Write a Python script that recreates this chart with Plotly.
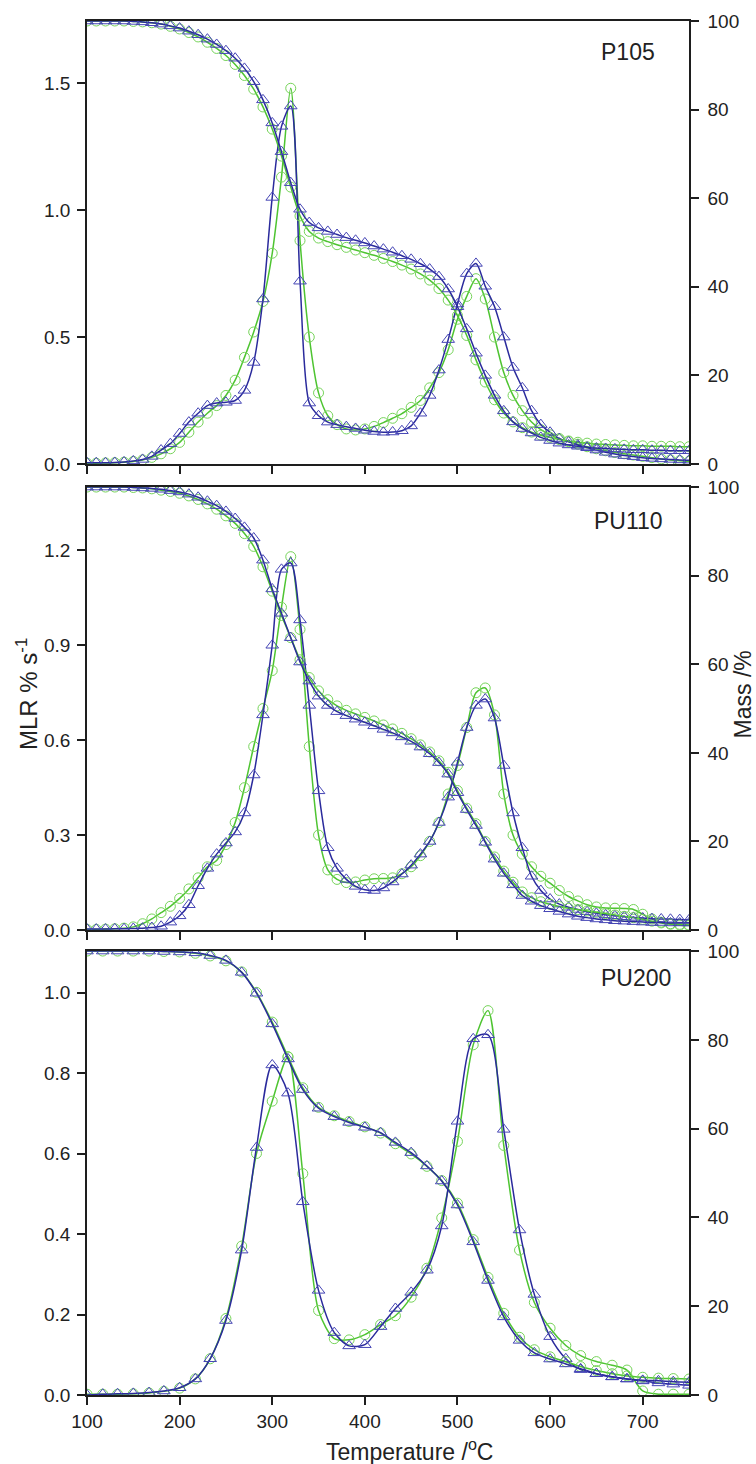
import plotly.graph_objects as go

# Temperature grids (deg C) at which the curves were read
TEMP_10 = [100, 110, 120, 130, 140, 150, 160, 170, 180, 190,
           200, 210, 220, 230, 240, 250, 260, 270, 280, 290,
           300, 310, 320, 330, 340, 350, 360, 370, 380, 390,
           400, 410, 420, 430, 440, 450, 460, 470, 480, 490,
           500, 510, 520, 530, 540, 550, 560, 570, 580, 590,
           600, 610, 620, 630, 640, 650, 660, 670, 680, 690,
           700, 710, 720, 730, 740, 750]

TEMP_17 = [100, 117, 133, 150, 167, 183, 200, 217, 233, 250,
           267, 283, 300, 317, 333, 350, 367, 383, 400, 417,
           433, 450, 467, 483, 500, 517, 533, 550, 567, 583,
           600, 617, 633, 650, 667, 683, 700, 717, 733, 750]

# P105
P105_MLR_BLUE = [0.005, 0.005, 0.005, 0.006, 0.008, 0.012, 0.018, 0.03, 0.055, 0.08,
                 0.12, 0.165, 0.2, 0.23, 0.24, 0.243, 0.25, 0.29, 0.4, 0.65,
                 1.05, 1.33, 1.41, 0.72, 0.24, 0.19, 0.165, 0.155, 0.147, 0.14,
                 0.133, 0.128, 0.125, 0.126, 0.131, 0.15, 0.2, 0.27, 0.37, 0.49,
                 0.63, 0.75, 0.79, 0.7, 0.62, 0.5, 0.38, 0.3, 0.21, 0.155,
                 0.125, 0.1, 0.087, 0.075, 0.064, 0.055, 0.046, 0.039, 0.033, 0.029,
                 0.025, 0.022, 0.02, 0.018, 0.016, 0.015]
P105_MLR_GREEN = [0.003, 0.003, 0.004, 0.005, 0.007, 0.01, 0.016, 0.026, 0.04, 0.06,
                  0.085, 0.125, 0.165, 0.2, 0.23, 0.27, 0.33, 0.42, 0.52, 0.64,
                  0.83, 1.13, 1.48, 0.88, 0.5, 0.28, 0.19, 0.155, 0.138, 0.134,
                  0.138, 0.148, 0.163, 0.18, 0.198, 0.223, 0.25, 0.3, 0.36, 0.45,
                  0.57, 0.66, 0.73, 0.65, 0.5, 0.36, 0.27, 0.21, 0.165, 0.135,
                  0.115, 0.1, 0.088, 0.078, 0.068, 0.06, 0.052, 0.045, 0.04, 0.035,
                  0.03, 0.025, 0.02, 0.016, 0.013, 0.01]
P105_MASS_BLUE = [100, 100, 100, 100, 100, 99.9, 99.8, 99.6, 99.3, 98.9,
                  98.4, 97.7, 96.9, 95.9, 94.7, 93.3, 91.6, 89.3, 86.3, 82.2,
                  77, 70.5, 63.5, 57.5, 54.5, 53.3, 52.5, 51.8, 51.1, 50.5,
                  49.9, 49.2, 48.5, 47.8, 47, 46.2, 45.2, 44, 42.3, 39.5,
                  35.5, 30.5, 25, 20, 15.5, 12, 9.5, 8, 7, 6,
                  5.3, 4.7, 4.3, 4, 3.8, 3.6, 3.5, 3.4, 3.3, 3.2,
                  3.2, 3.1, 3.1, 3, 3, 3]
P105_MASS_GREEN = [100, 100, 100, 100, 100, 99.9, 99.8, 99.6, 99.3, 98.8,
                   98.2, 97.4, 96.4, 95.2, 93.8, 92.2, 90.2, 87.7, 84.6, 80.6,
                   75.6, 69.5, 62.5, 56, 52.5, 51, 50.2, 49.5, 48.9, 48.3,
                   47.7, 47.1, 46.4, 45.7, 44.9, 44, 42.9, 41.5, 39.6, 37,
                   33.5, 29, 23.5, 18.5, 14.5, 11.5, 9.5, 8.2, 7.2, 6.5,
                   6, 5.5, 5.2, 4.9, 4.7, 4.5, 4.4, 4.3, 4.2, 4.1,
                   4.1, 4, 4, 4, 3.9, 3.9]

# PU110
PU110_MLR_BLUE = [0.003, 0.003, 0.003, 0.004, 0.004, 0.005, 0.006, 0.008, 0.012, 0.025,
                  0.045, 0.08, 0.14, 0.195, 0.24, 0.275, 0.31, 0.37, 0.49, 0.68,
                  0.9, 1.14, 1.16, 0.98, 0.71, 0.44, 0.26, 0.195, 0.16, 0.138,
                  0.127, 0.125, 0.133, 0.152, 0.177, 0.205, 0.24, 0.28, 0.34, 0.42,
                  0.53, 0.64, 0.71, 0.73, 0.67, 0.52, 0.37, 0.26, 0.17, 0.125,
                  0.098, 0.082, 0.072, 0.065, 0.058, 0.053, 0.048, 0.045, 0.042, 0.04,
                  0.038, 0.036, 0.035, 0.034, 0.033, 0.032]
PU110_MLR_GREEN = [0.002, 0.002, 0.003, 0.004, 0.006, 0.01, 0.02, 0.035, 0.055, 0.075,
                   0.1, 0.13, 0.165, 0.2, 0.22, 0.27, 0.34, 0.45, 0.58, 0.7,
                   0.82, 1.02, 1.18, 0.95, 0.58, 0.3, 0.19, 0.16, 0.15, 0.152,
                   0.158, 0.162, 0.163, 0.165, 0.178, 0.2, 0.235, 0.28, 0.34, 0.43,
                   0.52, 0.64, 0.75, 0.765, 0.68, 0.43, 0.3, 0.24, 0.2, 0.17,
                   0.148, 0.125, 0.106, 0.092, 0.08, 0.073, 0.07, 0.069, 0.068, 0.065,
                   0.05, 0.035, 0.025, 0.02, 0.018, 0.016]
PU110_MASS_BLUE = [100, 100, 100, 100, 100, 99.9, 99.8, 99.7, 99.5, 99.2,
                   98.9, 98.4, 97.7, 96.8, 95.8, 94.5, 92.9, 90.9, 88.5, 83.5,
                   77, 71.5, 66, 60.5, 56.2, 52.8, 50.7, 49.3, 48.4, 47.6,
                   46.9, 46.1, 45.3, 44.5, 43.6, 42.6, 41.3, 39.8, 37.8, 35.2,
                   31, 27.2, 23.6, 19.8, 16, 12.8, 10.2, 7.8, 6.5, 5.5,
                   4.8, 4.2, 3.6, 3.1, 2.8, 2.5, 2.3, 2.1, 2, 1.9,
                   1.8, 1.7, 1.7, 1.6, 1.6, 1.6]
PU110_MASS_GREEN = [100, 100, 100, 100, 100, 99.9, 99.8, 99.6, 99.3, 99,
                    98.6, 98, 97.2, 96.2, 95, 93.5, 91.8, 89.5, 86.6, 82,
                    76.5, 71, 66, 61, 57, 54, 52, 50.6, 49.6, 48.8,
                    48, 47.2, 46.3, 45.4, 44.4, 43.2, 41.8, 40.2, 38.2, 35.6,
                    31.5, 27.5, 24, 20, 16.5, 13.3, 10.8, 8.6, 7.3, 6.4,
                    5.8, 5.3, 4.9, 4.6, 4.3, 4, 3.7, 3.4, 3.1, 2.8,
                    2.4, 2, 1.6, 1.3, 1.1, 1]

# PU200
PU200_MLR_BLUE = [0.0, 0.002, 0.003, 0.004, 0.006, 0.01, 0.018, 0.04, 0.09, 0.185,
                  0.36, 0.615, 0.82, 0.75, 0.48, 0.26, 0.155, 0.122, 0.125, 0.17,
                  0.215, 0.255, 0.31, 0.42, 0.68, 0.885, 0.895, 0.66, 0.41, 0.25,
                  0.145, 0.09, 0.063, 0.053, 0.045, 0.04, 0.035, 0.03, 0.027, 0.024]
PU200_MLR_GREEN = [0.002, 0.002, 0.002, 0.003, 0.005, 0.009, 0.017, 0.04, 0.09, 0.19,
                   0.37, 0.6, 0.73, 0.84, 0.55, 0.21, 0.14, 0.137, 0.15, 0.175,
                   0.197, 0.243, 0.315, 0.44, 0.63, 0.87, 0.955, 0.62, 0.36, 0.23,
                   0.166, 0.123, 0.098, 0.083, 0.074, 0.062, 0.01, 0.002, 0.002, 0.002]
PU200_MASS_BLUE = [100, 100, 100, 100, 100, 99.9, 99.8, 99.6, 99, 97.9,
                   95.2, 90.5, 83.6, 75.7, 68.8, 64.6, 62.7, 61.4, 60.3, 59.1,
                   56.9, 54.6, 51.6, 48.2, 42.8, 34.5, 25.8, 17.6, 12.3, 9.5,
                   8.1, 7, 5.9, 4.8, 4.1, 3.6, 3.3, 3.2, 3, 2.9]
PU200_MASS_GREEN = [100, 100, 100, 100, 100, 99.9, 99.8, 99.5, 98.9, 97.8,
                    95.3, 90.7, 84, 76.2, 69.2, 64.8, 62.9, 61.6, 60.4, 59,
                    56.6, 54.3, 51.5, 48.3, 43.2, 35, 26.5, 18.4, 13, 10.2,
                    8.6, 7.5, 6.4, 5.5, 4.8, 4.3, 4, 3.8, 3.7, 3.6]

PANEL_NAMES = ["P105", "PU110", "PU200"]
MLR_MAX = [1.745, 1.4, 1.103]
MLR_DTICK = [0.5, 0.3, 0.2]

BLUE_LINE = "#2a2a9c"
BLUE_MARK = "#4545b5"
GREEN_LINE = "#4ec431"
GREEN_MARK = "#76d45a"
AXIS_COL = "#1e1e1e"
FONT = "Liberation Sans, Arial, sans-serif"

panels = [
    (TEMP_10, P105_MLR_GREEN, P105_MASS_GREEN, P105_MLR_BLUE, P105_MASS_BLUE),
    (TEMP_10, PU110_MLR_GREEN, PU110_MASS_GREEN, PU110_MLR_BLUE, PU110_MASS_BLUE),
    (TEMP_17, PU200_MLR_GREEN, PU200_MASS_GREEN, PU200_MLR_BLUE, PU200_MASS_BLUE),
]

fig = go.Figure()


def add_curve(x, y, xa, ya, colour, mcol, symbol, msize):
    fig.add_trace(go.Scatter(
        x=x, y=y, xaxis=xa, yaxis=ya,
        mode="lines+markers",
        line=dict(color=colour, width=1.5, shape="spline", smoothing=0.8),
        marker=dict(symbol=symbol, size=msize, color=mcol,
                    line=dict(width=1, color=mcol)),
        showlegend=False, hoverinfo="skip",
    ))


for i, (t, mlr_g, mass_g, mlr_b, mass_b) in enumerate(panels):
    xa = "x" if i == 0 else f"x{i + 1}"
    yl = "y" if i == 0 else f"y{2 * i + 1}"
    yr = f"y{2 * i + 2}"
    add_curve(t, mlr_g, xa, yl, GREEN_LINE, GREEN_MARK, "circle-open", 10)
    add_curve(t, mass_g, xa, yr, GREEN_LINE, GREEN_MARK, "circle-open", 10)
    add_curve(t, mlr_b, xa, yl, BLUE_LINE, BLUE_MARK, "triangle-up-open", 11)
    add_curve(t, mass_b, xa, yr, BLUE_LINE, BLUE_MARK, "triangle-up-open", 11)

# panel domains (paper fraction)
domains = [[0.6776, 1.0], [0.3384, 0.6608], [0.0, 0.3231]]
label_pos = [(0.947, 0.93), (0.96, 0.923), (0.973, 0.94)]

axis_common = dict(showline=True, linecolor=AXIS_COL, linewidth=1.5,
                   ticks="outside", ticklen=8, tickwidth=1.5, tickcolor=AXIS_COL,
                   showgrid=False, zeroline=False,
                   tickfont=dict(family=FONT, size=19, color="#222"))

layout = {}
annotations = []
for i in range(3):
    xkey = "xaxis" if i == 0 else f"xaxis{i + 1}"
    ylkey = "yaxis" if i == 0 else f"yaxis{2 * i + 1}"
    yrkey = f"yaxis{2 * i + 2}"
    yl = "y" if i == 0 else f"y{2 * i + 1}"
    xa = "x" if i == 0 else f"x{i + 1}"
    layout[xkey] = dict(axis_common, domain=[0, 1], anchor=yl, range=[100, 750],
                        tick0=100, dtick=100, mirror=True,
                        showticklabels=(i == 2))
    layout[ylkey] = dict(axis_common, domain=domains[i], anchor=xa,
                         range=[0, MLR_MAX[i]], tick0=0, dtick=MLR_DTICK[i],
                         tickformat=".1f", ticklabelstandoff=3)
    layout[yrkey] = dict(axis_common, overlaying=yl, anchor=xa, side="right",
                         range=[0, 100], tick0=0, dtick=20, tickformat="d",
                         ticklabelstandoff=5)
    lx, ly = label_pos[i]
    annotations.append(dict(
        text=PANEL_NAMES[i], xref=f"{xa} domain", yref=f"{yl} domain",
        x=lx, y=ly, xanchor="right", yanchor="middle", showarrow=False,
        font=dict(family=FONT, size=23, color="#222")))

annotations += [
    dict(text="MLR % s<sup>-1</sup>", xref="paper", yref="paper",
         x=-0.1, y=0.51, textangle=-90, xanchor="center", yanchor="middle",
         showarrow=False, font=dict(family=FONT, size=24, color="#222")),
    dict(text="Mass /%", xref="paper", yref="paper",
         x=1.09, y=0.51, textangle=-90, xanchor="center", yanchor="middle",
         showarrow=False, font=dict(family=FONT, size=23, color="#222")),
    dict(text="Temperature /<sup>o</sup>C", xref="paper", yref="paper",
         x=0.536, y=-0.04, xanchor="center", yanchor="middle",
         showarrow=False, font=dict(family=FONT, size=23, color="#222")),
]

fig.update_layout(
    **layout,
    annotations=annotations,
    width=756, height=1464,
    margin=dict(l=87, r=67, t=21, b=69),
    plot_bgcolor="white", paper_bgcolor="white",
    showlegend=False,
)

# drop the default page margin so the figure sits at the window origin
fig.write_html("out.html",
               config={"displayModeBar": False},
               post_script="document.body.style.margin='0';")
